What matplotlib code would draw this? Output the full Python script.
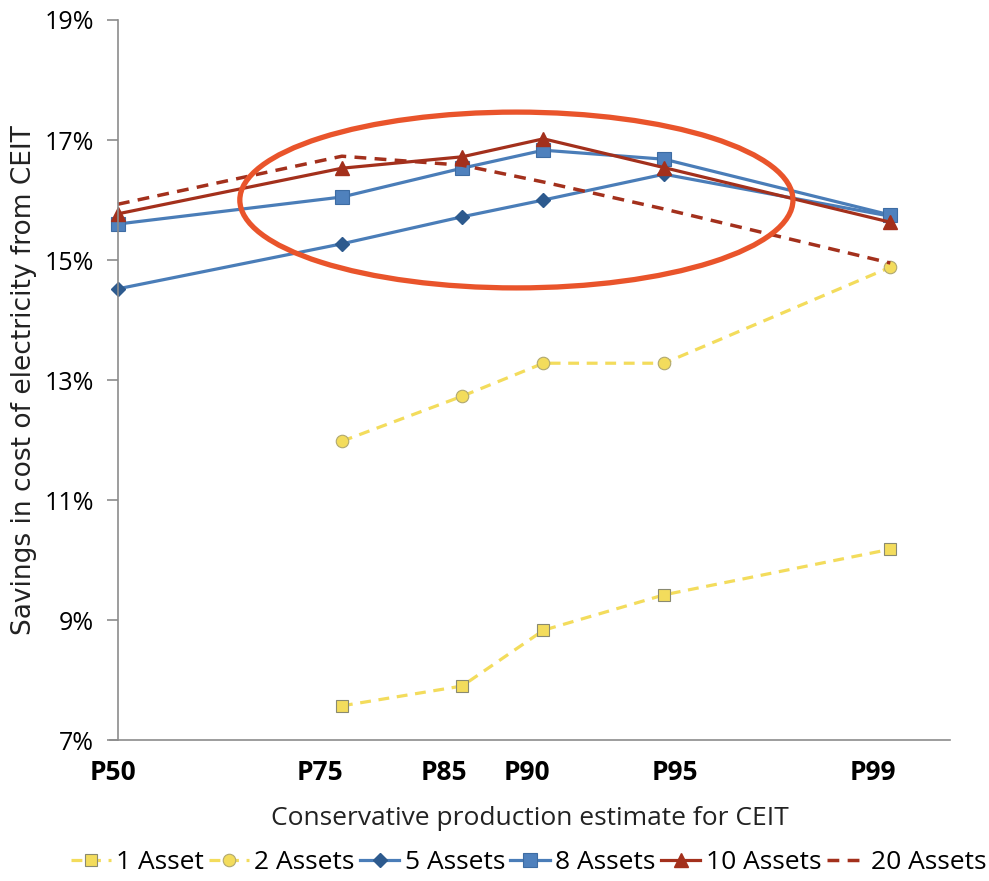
#!/usr/bin/env python3
# -*- coding: utf-8 -*-

import numpy as np
import matplotlib
matplotlib.use("Agg")
from matplotlib import pyplot as plt
from matplotlib.patches import Ellipse
from matplotlib.ticker import FuncFormatter

# x positions are the normal quantiles of each percentile (P50 -> 0, P99 -> 2.326)
percentiles = ["P50", "P75", "P85", "P90", "P95", "P99"]
z_scores = [0.0, 0.6745, 1.0364, 1.2816, 1.6449, 2.3263]
# the category labels sit slightly off the points in the original
label_pos = [-0.015, 0.608, 0.982, 1.232, 1.678, 2.274]

# savings in % (NaN = no value)
asset_1 = [np.nan, 7.57, 7.90, 8.83, 9.42, 10.18]
assets_2 = [np.nan, 11.98, 12.73, 13.28, 13.28, 14.88]
assets_5 = [14.52, 15.27, 15.72, 16.00, 16.43, 15.73]
assets_8 = [15.60, 16.05, 16.53, 16.83, 16.68, 15.75]
assets_10 = [15.77, 16.53, 16.72, 17.02, 16.54, 15.63]
assets_20 = [15.93, 16.73, 16.58, 16.30, 15.85, 14.95]

yticks = [7, 9, 11, 13, 15, 17, 19]

YELLOW = "#F3DC5C"
STEEL = "#4A7DB8"
NAVY = "#2D5A8E"
RED = "#A3301C"
DASH = (0, (3.4, 2.4))

plt.rcParams["font.family"] = ["Open Sans", "DejaVu Sans"]

fig = plt.figure(figsize=(9.89, 8.81), dpi=100)
ax = fig.add_axes([110 / 989, 0.160, 840 / 989, 0.8173])

ax.plot(z_scores, asset_1, color=YELLOW, ls=DASH, lw=2.3,
        marker="s", ms=8.5, mfc=YELLOW, mec="#8a8a70", mew=0.8, label="1 Asset")
ax.plot(z_scores, assets_2, color=YELLOW, ls=DASH, lw=2.3,
        marker="o", ms=9, mfc=YELLOW, mec="#b0a870", mew=0.8, label="2 Assets")
ax.plot(z_scores, assets_5, color=STEEL, lw=2.3,
        marker="D", ms=7, mfc=NAVY, mec=NAVY, label="5 Assets")
ax.plot(z_scores, assets_8, color=STEEL, lw=2.3,
        marker="s", ms=10, mfc="#4F81BD", mec="#3d6ca3", mew=0.8, label="8 Assets")
ax.plot(z_scores, assets_10, color=RED, lw=2.3,
        marker="^", ms=9.5, mfc=RED, mec=RED, label="10 Assets")
ax.plot(z_scores, assets_20, color=RED, ls=DASH, lw=2.5,
        label="20 Assets")

# highlight ellipse
ax.add_patch(Ellipse((1.2, 16.0), 1.666, 2.93, fill=False,
                     ec="#E9542B", lw=3.8, zorder=5))

ax.set_xlim(-0.024, 2.506)
ax.set_ylim(7, 19)
ax.set_yticks(yticks)
ax.yaxis.set_major_formatter(FuncFormatter(lambda v, p: f"{v:.0f}%"))
ax.set_xticks(label_pos)
ax.set_xticklabels(percentiles, fontweight="bold", fontsize=19)

for s in ["top", "right"]:
    ax.spines[s].set_visible(False)
for s in ["left", "bottom"]:
    ax.spines[s].set_color("#8c8c8c")
    ax.spines[s].set_linewidth(1.2)
ax.spines["left"].set_position(("data", 0))

ax.tick_params(axis="y", direction="out", length=8, width=1.2,
               color="#8c8c8c", labelsize=18, pad=9)
ax.tick_params(axis="x", length=0, pad=14)

ax.set_xlabel("Conservative production estimate for CEIT", fontsize=19,
              labelpad=14, color="#222222")
ax.set_ylabel("Savings in cost of electricity from CEIT", fontsize=19,
              color="#222222", family=["DejaVu Sans"])
ax.yaxis.set_label_coords(-0.087, 0.5)

fig.legend(loc="center", bbox_to_anchor=(0.535, 0.021), ncol=6,
           frameon=False, handlelength=1.5, handletextpad=0.2,
           columnspacing=0.2, borderaxespad=0, prop={"size": 19})

fig.savefig("out.png", dpi=100)
